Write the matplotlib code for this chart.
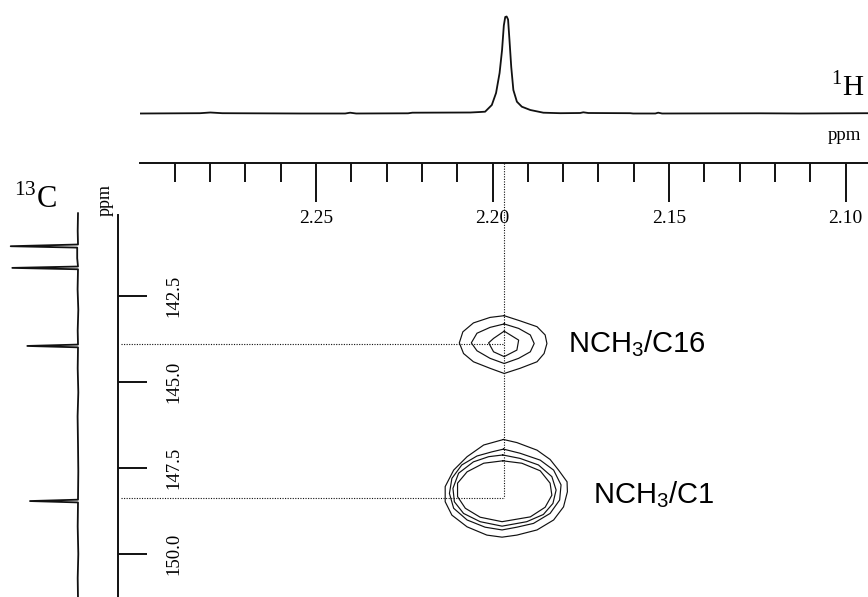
import matplotlib
matplotlib.use('Agg')
import matplotlib.pyplot as plt
from matplotlib.ticker import MultipleLocator, FormatStrFormatter

plt.rcParams['font.family'] = 'Liberation Serif'
plt.rcParams['mathtext.fontset'] = 'custom'
plt.rcParams['mathtext.rm'] = 'Liberation Serif'
plt.rcParams['mathtext.sf'] = 'Liberation Sans'

W, H = 868, 597
INK = '#111111'

# 1H projection (ppm, intensity)
h_ppm = [2.2997, 2.2828, 2.2799, 2.2765, 2.2544, 2.2417, 2.2403, 2.2386,
         2.2239, 2.2227, 2.2063, 2.2035, 2.2021, 2.2002, 2.1990, 2.1980,
         2.1973, 2.1968, 2.1964, 2.1960, 2.1956, 2.1952, 2.1947, 2.1941,
         2.1931, 2.1917, 2.1893, 2.1856, 2.1808, 2.1752, 2.1743, 2.1729,
         2.1610, 2.1602, 2.1539, 2.1531, 2.1520, 2.1242, 2.1129, 2.0936]
h_int = [0.0, 0.3, 1.0, 0.3, 0.0, 0.0, 0.8, 0.0,
         0.2, 0.8, 1.0, 1.5, 1.8, 8.5, 20.5, 40.5,
         63.5, 88.0, 96.5, 97.0, 94.0, 73.5, 46.5, 23.5,
         11.8, 6.8, 3.5, 0.8, 0.3, 0.5, 1.2, 0.5,
         0.3, 0.0, 0.0, 0.8, 0.0, 0.2, 0.0, 0.3]

# 13C projection (ppm, intensity)
c_ppm = [140.09, 140.60, 141.00, 141.05, 141.09, 141.40, 141.64, 141.68,
         141.72, 142.30, 142.90, 143.50, 143.91, 143.95, 143.99, 144.60,
         145.30, 146.00, 146.80, 147.60, 148.42, 148.46, 148.50, 149.20,
         150.00, 150.70, 151.30]
c_int = [0.0, 0.3, 0.0, 67.3, 0.8, 0.8, 0.0, 65.7,
         0.0, 0.4, -0.3, 0.3, 0.0, 50.7, 0.0, 0.3,
         -0.3, 0.4, 0.0, -0.3, 0.0, 48.0, 0.0, 0.3,
         -0.3, 0.3, 0.0]

H_LIM = (2.2998, 2.0937)
C_LIM = (151.25, 138.63)
C_TICKS = [142.5, 145.0, 147.5, 150.0]

# correlations (1H ppm, 13C ppm, label)
cross_h = [2.1967, 2.1971]
cross_c = [143.88, 148.38]
cross_labels = ['NCH$_\\mathsf{3}$/C16', 'NCH$_\\mathsf{3}$/C1']
dotted_start_h = 2.3051

# contour outlines (1H ppm, 13C ppm)
c16_outer = [(2.1967, 143.07), (2.1922, 143.22), (2.1874, 143.39), (2.1851, 143.63),
             (2.1846, 143.88), (2.1854, 144.17), (2.1874, 144.41), (2.1922, 144.60),
             (2.1967, 144.75), (2.2007, 144.60), (2.2054, 144.41), (2.2082, 144.17),
             (2.2094, 143.86), (2.2084, 143.54), (2.2054, 143.28), (2.2007, 143.12)]
c16_middle = [(2.1967, 143.31), (2.1926, 143.44), (2.1893, 143.63), (2.1882, 143.88),
              (2.1893, 144.12), (2.1926, 144.31), (2.1967, 144.46), (2.2007, 144.31),
              (2.2044, 144.09), (2.2060, 143.86), (2.2044, 143.58), (2.2007, 143.41)]
c16_inner = [(2.1967, 143.52), (2.1926, 143.78), (2.1931, 144.07), (2.1967, 144.26),
             (2.1997, 144.12), (2.2011, 143.86), (2.1997, 143.73)]

c1_outer = [(2.1969, 146.67), (2.1931, 146.76), (2.1874, 146.98), (2.1837, 147.25),
            (2.1813, 147.56), (2.1789, 147.90), (2.1788, 148.19), (2.1799, 148.63),
            (2.1827, 149.01), (2.1874, 149.30), (2.1931, 149.45), (2.1973, 149.51),
            (2.2016, 149.45), (2.2072, 149.21), (2.2115, 148.87), (2.2134, 148.48),
            (2.2134, 148.04), (2.2110, 147.56), (2.2072, 147.17), (2.2025, 146.83)]
c1_second = [(2.1969, 146.95), (2.1922, 147.07), (2.1865, 147.27), (2.1827, 147.56),
             (2.1806, 147.99), (2.1810, 148.43), (2.1837, 148.82), (2.1884, 149.11),
             (2.1931, 149.22), (2.1973, 149.30), (2.2021, 149.22), (2.2072, 149.01),
             (2.2110, 148.67), (2.2122, 148.24), (2.2115, 147.80), (2.2087, 147.41),
             (2.2044, 147.15), (2.2002, 147.03)]
c1_third = [(2.1971, 147.12), (2.1922, 147.22), (2.1870, 147.41), (2.1832, 147.75),
            (2.1820, 148.14), (2.1829, 148.53), (2.1856, 148.85), (2.1903, 149.06),
            (2.1973, 149.19), (2.2035, 149.06), (2.2082, 148.82), (2.2108, 148.48),
            (2.2112, 148.09), (2.2096, 147.65), (2.2054, 147.32), (2.2011, 147.17)]
c1_inner = [(2.1971, 147.29), (2.1917, 147.36), (2.1865, 147.58), (2.1837, 147.94),
            (2.1832, 148.29), (2.1851, 148.64), (2.1893, 148.92), (2.1973, 149.06),
            (2.2035, 148.93), (2.2077, 148.67), (2.2099, 148.33), (2.2099, 147.94),
            (2.2072, 147.61), (2.2025, 147.36)]
contours = [c16_outer, c16_middle, c16_inner, c1_outer, c1_second, c1_third, c1_inner]


fig = plt.figure(figsize=(W / 100, H / 100), dpi=100)


def px_axes(x0, y0, x1, y1):
    return fig.add_axes([x0 / W, 1 - y1 / H, (x1 - x0) / W, (y1 - y0) / H])


def fx(x):
    return x / W


def fy(y):
    return 1 - y / H


# top: 1H trace with ppm scale on its bottom spine
axh = px_axes(140, 0, 868, 163)
axh.plot(h_ppm, h_int, c=INK, lw=1.3, solid_joinstyle='round')
axh.set_xlim(H_LIM)
axh.set_ylim(-49.5, 113.5)
for s in ['top', 'left', 'right']:
    axh.spines[s].set_visible(False)
axh.spines['bottom'].set_linewidth(1.4)
axh.spines['bottom'].set_color(INK)
axh.set_yticks([])
axh.xaxis.set_major_locator(MultipleLocator(0.05))
axh.xaxis.set_minor_locator(MultipleLocator(0.01))
axh.xaxis.set_major_formatter(FormatStrFormatter('%.2f'))
axh.tick_params(axis='x', which='major', direction='out', length=28, width=1.4,
                color=INK, labelsize=14, pad=5.5)
axh.tick_params(axis='x', which='minor', direction='out', length=13.7, width=1.4,
                color=INK)
axh.patch.set_visible(False)

# left: 13C trace
axc = px_axes(0, 163, 100, 597)
axc.plot(c_int, c_ppm, c=INK, lw=1.3, clip_on=False)
axc.set_xlim(78, -22)
axc.set_ylim(C_LIM)
axc.axis('off')

# 13C ppm scale
axs = px_axes(60, 163, 117.7, 597)
axs.set_ylim(C_LIM)
for s in ['top', 'left', 'bottom']:
    axs.spines[s].set_visible(False)
axs.spines['right'].set_bounds(151.25, 140.15)
axs.spines['right'].set_linewidth(1.4)
axs.spines['right'].set_color(INK)
axs.set_xticks([])
axs.yaxis.tick_right()
axs.set_yticks(C_TICKS)
axs.yaxis.set_major_formatter(FormatStrFormatter('%.1f'))
axs.tick_params(axis='y', direction='out', length=21, width=1.4, color=INK,
                labelsize=13.5, pad=13, labelrotation=90)
for lab in axs.get_yticklabels():
    lab.set_va('center')
axs.patch.set_visible(False)

# 2D map
ax = px_axes(140, 163, 868, 597)
ax.set_xlim(H_LIM)
ax.set_ylim(C_LIM)
ax.axis('off')
for ring in contours:
    hs = [p[0] for p in ring] + [ring[0][0]]
    cs = [p[1] for p in ring] + [ring[0][1]]
    ax.plot(hs, cs, c=INK, lw=0.85, clip_on=False)

dots = dict(c=INK, lw=0.8, ls=(0, (1, 1.3)), clip_on=False)
for h, c in zip(cross_h, cross_c):
    ax.plot([dotted_start_h, h], [c, c], **dots)
ax.plot([cross_h[0], cross_h[0]], [C_LIM[1], max(cross_c)], **dots)

ax.text(fx(568), fy(352), cross_labels[0], transform=fig.transFigure,
        family='Liberation Sans', fontsize=21, va='baseline', ha='left')
ax.text(fx(593), fy(503), cross_labels[1], transform=fig.transFigure,
        family='Liberation Sans', fontsize=21, va='baseline', ha='left')

fig.text(fx(831), fy(95), '$^\\mathrm{1}$H', fontsize=21, va='baseline', ha='left')
fig.text(fx(14), fy(208), '$^\\mathrm{13}$C', fontsize=22, va='baseline', ha='left')
fig.text(fx(828), fy(140), 'ppm', fontsize=13.5, va='baseline', ha='left')
fig.text(fx(105), fy(200), 'ppm', fontsize=13, rotation=90, va='center', ha='center')

fig.savefig('out.png', dpi=100)
